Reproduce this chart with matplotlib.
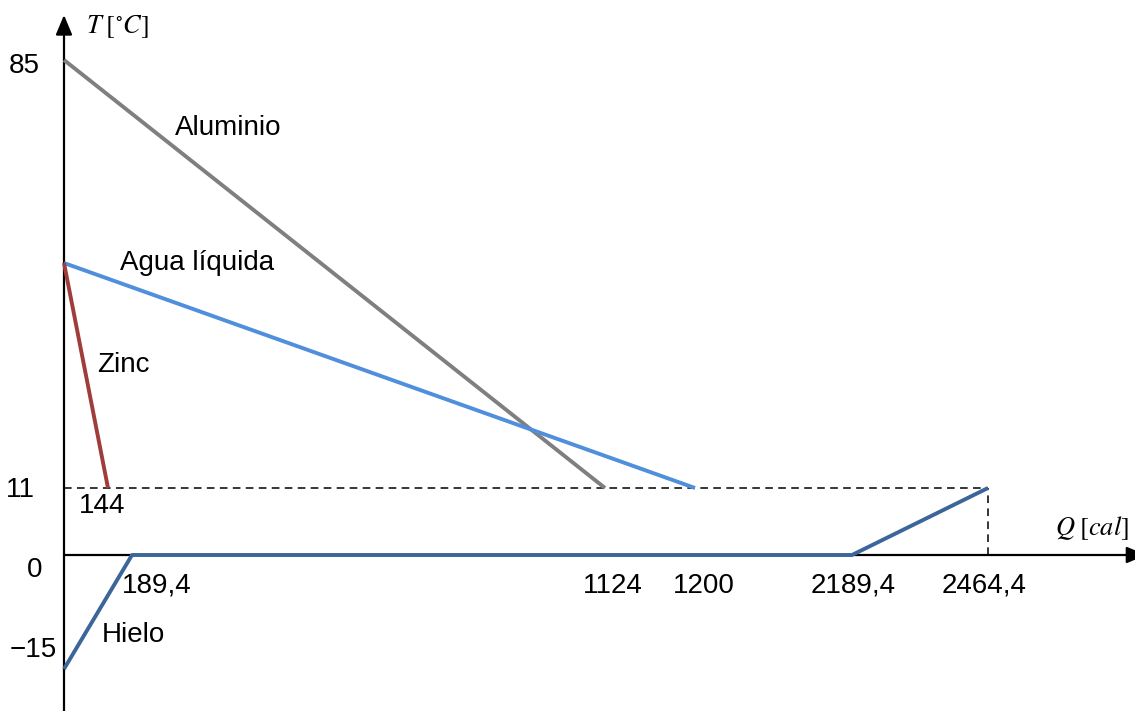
import numpy as np
import matplotlib
matplotlib.use("Agg")
import matplotlib.pyplot as plt

plt.rcParams["font.family"] = ["Liberation Sans", "DejaVu Sans"]
plt.rcParams["mathtext.fontset"] = "stix"

# Heat exchanged Q [cal] vs temperature T [°C] for each body
aluminio_q = [0, 1124]
aluminio_t = [85, 11]
agua_q = [0, 1200]
agua_t = [50, 11]
zinc_q = [0, 144]
zinc_t = [50, 11]
hielo_q = [0, 189.4, 2189.4, 2464.4]
hielo_t = [-15, 0, 0, 11]
t_eq = 11

q_ticks = [144, 189.4, 1124, 1200, 2189.4, 2464.4]
q_labels = ["144", "189,4", "1124", "1200", "2189,4", "2464,4"]
t_ticks = [85, 11, 0, -15]
t_labels = ["85", "11", "0", "\u221215"]

# The sketch is not to scale: piecewise axis mapping (value -> pixels from origin)
q_knots = [-500, 0, 144, 189.4, 1124, 1200, 2189.4, 2464.4, 2900]
q_px = [-64, 0, 44, 68, 541, 631, 788, 924, 1071]
t_knots = [-40, -15, 0, 11, 50, 85, 120]
t_px = [-156, -114, 0, 67, 292, 495, 555]

W, H = 1135, 711
fig = plt.figure(figsize=(W / 100, H / 100), dpi=100)
ax = fig.add_axes([0, 0, 1, 1])
ax.set_xscale("function", functions=(lambda q: np.interp(q, q_knots, q_px),
                                     lambda p: np.interp(p, q_px, q_knots)))
ax.set_yscale("function", functions=(lambda t: np.interp(t, t_knots, t_px),
                                     lambda p: np.interp(p, t_px, t_knots)))
ax.set_xlim(q_knots[0], q_knots[-1])
ax.set_ylim(t_knots[0], t_knots[-1])
ax.axis("off")

# axes with arrow heads
arrow = dict(arrowstyle="-|>,head_length=0.6,head_width=0.25", color="black",
             lw=1.6, mutation_scale=20, shrinkA=0, shrinkB=0)
ax.annotate("", xy=(0, 1 - 15 / H), xytext=(0, 0),
            xycoords=("data", "axes fraction"), textcoords=("data", "axes fraction"),
            arrowprops=arrow, zorder=1)
ax.annotate("", xy=(1.01, 0), xytext=(0, 0),
            xycoords=("axes fraction", "data"), textcoords=("data", "data"),
            arrowprops=arrow, zorder=1)

# equilibrium guides
ax.plot([0, hielo_q[-1]], [t_eq, t_eq], color="black", lw=1.1, ls=(0, (5, 3.5)), zorder=2)
ax.plot([hielo_q[-1], hielo_q[-1]], [0, t_eq], color="black", lw=1.1, ls=(0, (5, 3.5)), zorder=2)

lw = 2.8
ax.plot(aluminio_q, aluminio_t, color="#7f7f7f", lw=lw, zorder=3, solid_capstyle="butt")
ax.plot(agua_q, agua_t, color="#4f8fdc", lw=lw, zorder=4, solid_capstyle="butt")
ax.plot(zinc_q, zinc_t, color="#a13c3c", lw=lw, zorder=4, solid_capstyle="butt")
ax.plot(hielo_q, hielo_t, color="#3c6699", lw=lw, zorder=4, solid_capstyle="butt")

fs = 20
# Q labels: offsets in pixels from the point on the curve
q_off = [(-6, -25), (25, -38), (8, -38), (9, -38), (1, -38), (-4, -38)]
q_base = [t_eq, 0, 0, 0, 0, 0]
for q, lab, b, off in zip(q_ticks, q_labels, q_base, q_off):
    ax.annotate(lab, xy=(q, b), xytext=off, textcoords="offset pixels",
                ha="center", va="baseline", fontsize=fs)

t_off = [(-24, -13), (-29, -9), (-22, -22), (-7, 12)]
for t, lab, off in zip(t_ticks, t_labels, t_off):
    ax.annotate(lab, xy=(0, t), xytext=off, textcoords="offset pixels",
                ha="right", va="baseline", fontsize=fs)

def ptext(x, y, s, **kw):
    fig.text(x / W, 1 - y / H, s, va="baseline", **kw)

ptext(175, 135, "Aluminio", fontsize=fs)
ptext(120, 270, "Agua líquida", fontsize=fs)
ptext(97, 372, "Zinc", fontsize=fs)
ptext(102, 642, "Hielo", fontsize=fs)

ptext(86, 33, r"$T\;[^{\circ}C]$", fontsize=19)
ptext(1055, 535, r"$Q\;[cal]$", fontsize=19)

fig.savefig("out.png", dpi=100, facecolor="white")
